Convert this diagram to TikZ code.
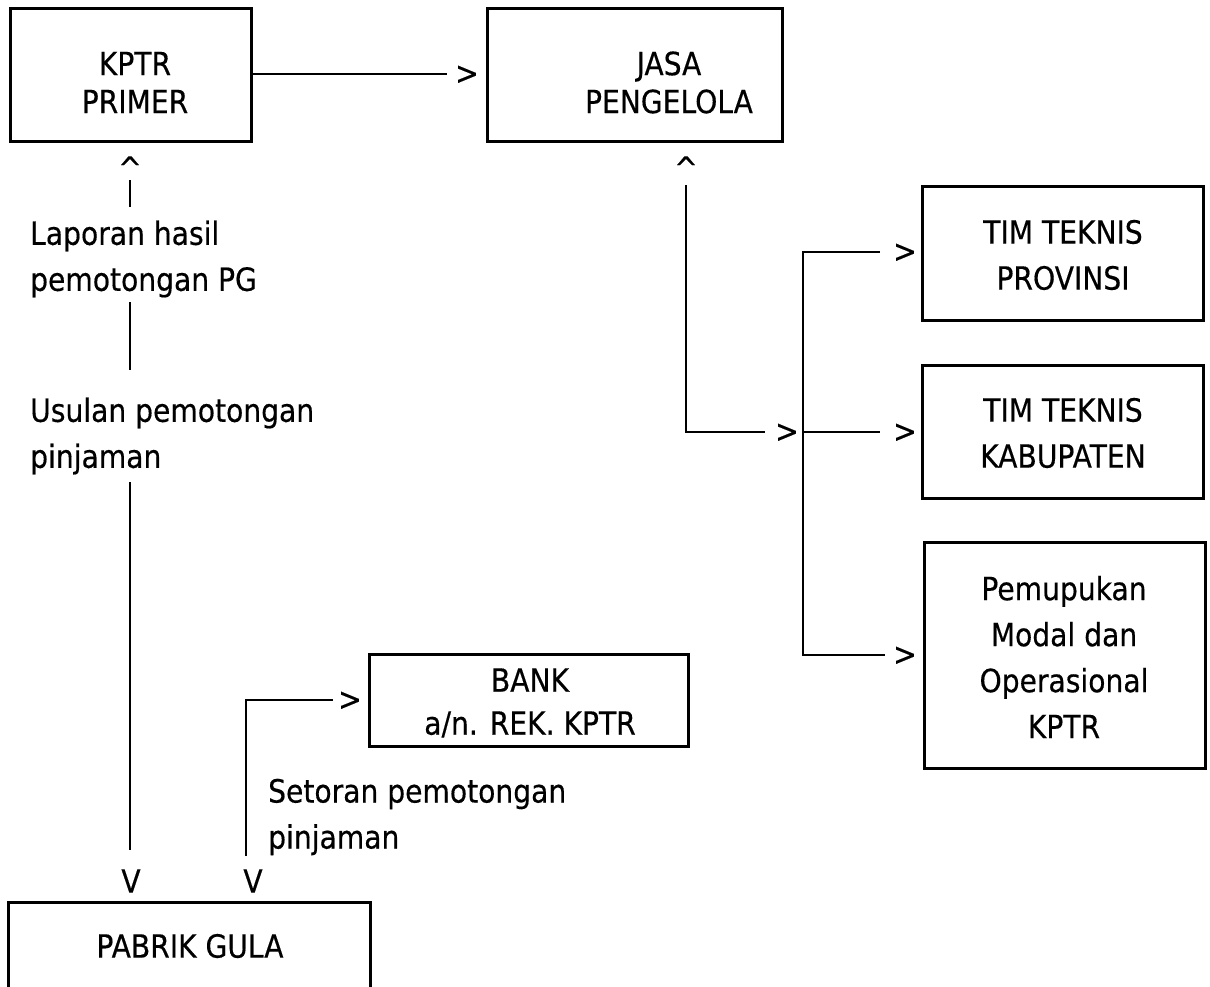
\documentclass[tikz,border=0pt]{standalone}
\usepackage{fontspec}
\setmainfont{DejaVu Sans}[FakeStretch=0.88,FakeBold=0.4]
\begin{document}
\begin{tikzpicture}[x=1pt,y=-1pt,
  box/.style={draw, line width=3pt, inner sep=0pt},
  txt/.style={align=center, font=\fontsize{32}{46}\selectfont, inner sep=0pt},
  lbl/.style={align=left, anchor=west, font=\fontsize{32}{46}\selectfont, inner sep=0pt},
  head/.style={font=\fontsize{32}{46}\selectfont, inner sep=0pt},
  conn/.style={line width=2.6pt}]
\useasboundingbox[fill=white] (0,0) rectangle (1210,986);

% boxes
\node[box, minimum width=241pt, minimum height=133pt] (kptr) at (130.5,74.5) {};
\node[txt] (kptrT) at (135,82.5) {KPTR\\[-8pt]PRIMER};
\node[box, minimum width=295pt, minimum height=133pt] (jasa) at (634.5,74.5) {};
\node[txt] (jasaT) at (669,82.5) {JASA\\[-8pt]PENGELOLA};
\node[box, minimum width=281pt, minimum height=134pt] (prov) at (1062.5,253) {};
\node[txt] (provT) at (1063,255) {TIM TEKNIS\\PROVINSI};
\node[box, minimum width=281pt, minimum height=133pt] (kab) at (1062.5,431.5) {};
\node[txt] (kabT) at (1063,433) {TIM TEKNIS\\KABUPATEN};
\node[box, minimum width=281pt, minimum height=226pt] (pem) at (1064.5,655) {};
\node[txt] (pemT) at (1064,657) {Pemupukan\\Modal dan\\Operasional\\KPTR};
\node[box, minimum width=319pt, minimum height=92pt] (bank) at (528.5,700) {};
\node[txt] (bankT) at (530,703) {BANK\\[-3pt]a/n. REK. KPTR};
\node[txt] (pg) at (190,946) {PABRIK GULA};
\coordinate (pgA) at (8,992);
\coordinate (pgB) at (370,992);
\draw[line width=3pt] (pgA) -- (pgA |- 0,902) -- (pgB |- 0,902) -- (pgB);

% labels
\node[lbl] (lap) at (30,259) {Laporan hasil\\pemotongan PG};
\node[lbl] (usul) at (30,436) {Usulan pemotongan\\pinjaman};
\node[lbl] (set) at (268,817) {Setoran pemotongan\\pinjaman};

% KPTR -> JASA
\coordinate (a1) at (447,74);
\node[head] (h1) at (467,75) {>};
\draw[conn] (kptr.east |- a1) -- (a1);

% PABRIK GULA -> KPTR (with labels) and KPTR -> PABRIK GULA
\node[head] (h2) at (130,168) {\textasciicircum};
\coordinate (k1) at (130,180);
\coordinate (k2) at (130,207);
\coordinate (k3) at (130,302);
\coordinate (k4) at (130,370);
\coordinate (k5) at (130,482);
\coordinate (k6) at (130,850);
\draw[conn] (k1) -- (k2);
\draw[conn] (k3) -- (k4);
\draw[conn] (k5) -- (k6);
\node[head] (h3) at (131,881) {V};

% PABRIK GULA -> BANK
\coordinate (b1) at (246,856);
\coordinate (b2) at (333,700);
\draw[conn] (b1) |- (b2);
\node[head] (h4) at (350,701) {>};
\node[head] (h5) at (253,881) {V};

% JASA branch
\node[head] (h6) at (686,168) {\textasciicircum};
\coordinate (j1) at (686,185);
\coordinate (j2) at (765,432);
\draw[conn] (j1) |- (j2);
\node[head] (h7) at (787,433) {>};

\coordinate (t1) at (880,252);
\coordinate (t2) at (803,252);
\coordinate (t3) at (803,655);
\coordinate (t4) at (885,655);
\coordinate (t5) at (880,432);
\draw[conn] (t1) -- (t2) -- (t3) -- (t4);
\draw[conn] (t2 |- t5) -- (t5);
\node[head] (h8) at (905,253) {>};
\node[head] (h9) at (905,433) {>};
\node[head] (h10) at (905,656) {>};
\end{tikzpicture}
\end{document}
